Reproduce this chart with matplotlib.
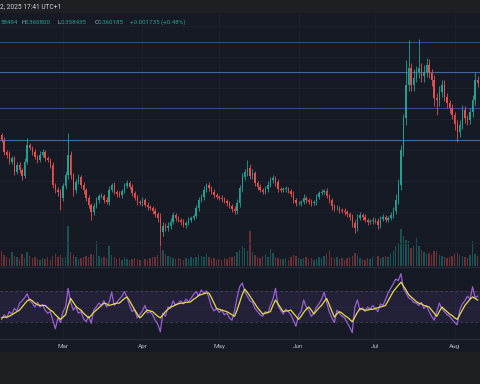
import matplotlib
matplotlib.use('Agg')
import matplotlib.pyplot as plt
import matplotlib.dates as mdates
import pandas as pd
import numpy as np
from matplotlib.patches import Rectangle
from matplotlib.lines import Line2D

# ---------------- data ----------------
start_date = '2025-02-05'
open_first = 0.381
closes = [
    0.374, 0.356, 0.352, 0.342, 0.347, 0.327, 0.337, 0.330, 0.321, 0.342,
    0.366, 0.362, 0.356, 0.349, 0.344, 0.352, 0.356, 0.347, 0.344, 0.337,
    0.308, 0.300, 0.298, 0.289, 0.306, 0.322, 0.352, 0.322, 0.300, 0.312,
    0.320, 0.308, 0.300, 0.289, 0.279, 0.268, 0.277, 0.286, 0.292, 0.292,
    0.286, 0.283, 0.300, 0.308, 0.298, 0.295, 0.293, 0.299, 0.306, 0.311,
    0.305, 0.296, 0.289, 0.283, 0.281, 0.286, 0.279, 0.276, 0.274, 0.270,
    0.265, 0.259, 0.239, 0.248, 0.245, 0.248, 0.254, 0.264, 0.259, 0.257,
    0.254, 0.249, 0.252, 0.257, 0.259, 0.262, 0.274, 0.286, 0.290, 0.300,
    0.308, 0.303, 0.298, 0.293, 0.290, 0.289, 0.287, 0.284, 0.281, 0.277,
    0.273, 0.270, 0.281, 0.303, 0.320, 0.327, 0.333, 0.321, 0.325, 0.311,
    0.305, 0.300, 0.298, 0.302, 0.308, 0.315, 0.318, 0.312, 0.302, 0.300,
    0.302, 0.302, 0.299, 0.295, 0.286, 0.281, 0.281, 0.283, 0.289, 0.286,
    0.283, 0.281, 0.283, 0.290, 0.296, 0.298, 0.299, 0.292, 0.286, 0.277,
    0.274, 0.274, 0.271, 0.270, 0.268, 0.265, 0.261, 0.252, 0.245, 0.259,
    0.264, 0.261, 0.257, 0.254, 0.255, 0.257, 0.255, 0.249, 0.258, 0.261,
    0.257, 0.259, 0.264, 0.270, 0.286, 0.308, 0.359, 0.406, 0.454, 0.479,
    0.454, 0.465, 0.473, 0.479, 0.467, 0.473, 0.484, 0.472, 0.462, 0.435,
    0.432, 0.444, 0.454, 0.437, 0.428, 0.421, 0.410, 0.397, 0.385, 0.396,
    0.418, 0.406, 0.403, 0.415, 0.432, 0.462, 0.457,
]
wick_hi = [  # upper wick, thousandths
    3, 4, 3, 5, 4, 3, 5, 4, 3, 6,
    11, 4, 3, 4, 3, 5, 4, 3, 4, 3,
    4, 3, 5, 4, 5, 6, 32, 6, 4, 5,
    4, 3, 4, 3, 4, 3, 5, 4, 3, 4,
    3, 4, 6, 3, 4, 3, 4, 3, 5, 4,
    3, 4, 3, 4, 3, 5, 3, 4, 3, 3,
    4, 3, 8, 5, 4, 6, 5, 4, 3, 4,
    3, 4, 3, 4, 3, 4, 5, 4, 5, 6,
    3, 4, 3, 4, 3, 3, 4, 3, 3, 4,
    3, 4, 6, 5, 6, 5, 11, 5, 6, 4,
    3, 4, 3, 4, 5, 4, 4, 3, 4, 3,
    3, 4, 3, 3, 4, 3, 4, 3, 5, 3,
    3, 4, 3, 4, 3, 4, 3, 4, 3, 3,
    3, 4, 3, 3, 4, 3, 3, 4, 5, 6,
    4, 3, 4, 3, 3, 4, 3, 4, 5, 4,
    3, 4, 5, 6, 8, 9, 8, 6, 37, 41,
    8, 12, 9, 42, 8, 10, 10, 8, 6, 7,
    8, 9, 8, 7, 6, 5, 6, 5, 6, 7,
    7, 6, 5, 6, 8, 11, 6,
]
wick_lo = [  # lower wick, thousandths
    3, 4, 5, 3, 4, 5, 3, 4, 6, 3,
    4, 3, 4, 3, 4, 3, 3, 4, 3, 4,
    5, 4, 6, 18, 5, 4, 5, 6, 8, 4,
    3, 4, 5, 4, 5, 11, 4, 3, 4, 3,
    4, 3, 4, 3, 3, 4, 3, 4, 3, 3,
    3, 4, 3, 4, 3, 4, 3, 4, 3, 4,
    4, 5, 19, 6, 5, 4, 5, 3, 4, 3,
    4, 3, 4, 3, 4, 3, 3, 4, 3, 4,
    3, 4, 3, 4, 3, 3, 4, 3, 4, 3,
    4, 5, 4, 5, 6, 5, 6, 5, 4, 5,
    4, 3, 4, 3, 4, 3, 4, 5, 4, 3,
    3, 4, 3, 4, 5, 4, 3, 4, 3, 4,
    3, 4, 3, 4, 3, 3, 4, 3, 4, 5,
    4, 3, 4, 3, 4, 4, 5, 6, 7, 4,
    3, 4, 3, 4, 3, 4, 3, 6, 4, 3,
    3, 4, 3, 4, 5, 6, 8, 9, 10, 8,
    9, 8, 7, 8, 9, 8, 7, 8, 9, 12,
    22, 8, 7, 6, 8, 7, 6, 8, 14, 7,
    6, 8, 7, 6, 8, 7, 6,
]
volumes = [  # millions
    150, 110, 90, 80, 140, 100, 90, 70, 120, 80,
    140, 100, 80, 90, 70, 60, 80, 70, 90, 60,
    100, 120, 90, 110, 80, 90, 400, 140, 110, 90,
    70, 80, 90, 100, 90, 120, 110, 250, 100, 80,
    90, 80, 200, 110, 90, 70, 80, 60, 90, 70,
    60, 70, 80, 70, 60, 80, 70, 60, 80, 90,
    90, 110, 220, 160, 120, 100, 90, 80, 70, 80,
    70, 60, 80, 70, 90, 80, 90, 110, 100, 90,
    120, 90, 70, 80, 60, 70, 60, 80, 70, 90,
    90, 100, 140, 160, 200, 180, 150, 350, 140, 110,
    90, 80, 100, 120, 90, 170, 130, 90, 80, 70,
    70, 80, 60, 90, 110, 100, 80, 70, 80, 90,
    70, 80, 60, 70, 90, 80, 100, 120, 160, 90,
    80, 90, 70, 80, 60, 80, 90, 100, 130, 110,
    80, 70, 60, 80, 70, 90, 80, 100, 80, 90,
    100, 90, 120, 150, 200, 220, 370, 300, 260, 250,
    180, 200, 280, 200, 160, 140, 120, 130, 110, 150,
    150, 110, 100, 90, 80, 90, 100, 120, 130, 110,
    100, 90, 80, 110, 250, 120, 100,
]
rsi = [
    34, 40, 36, 44, 41, 48, 45, 55, 58, 62,
    67, 58, 55, 50, 56, 50, 53, 46, 42, 44,
    33, 22, 36, 30, 44, 50, 74, 56, 46, 50,
    42, 44, 35, 31, 38, 29, 46, 50, 55, 52,
    58, 50, 56, 69, 52, 56, 60, 64, 70, 62,
    52, 44, 47, 36, 40, 45, 52, 42, 44, 40,
    33, 28, 18, 42, 38, 50, 48, 58, 52, 55,
    58, 54, 60, 57, 61, 66, 70, 64, 72, 68,
    71, 62, 50, 45, 48, 43, 46, 40, 42, 36,
    33, 45, 62, 76, 81, 70, 64, 58, 56, 48,
    44, 40, 38, 44, 42, 52, 60, 74, 52, 46,
    41, 47, 44, 40, 33, 25, 40, 44, 59, 50,
    46, 38, 42, 50, 54, 60, 69, 56, 44, 36,
    30, 46, 42, 38, 36, 30, 24, 17, 50, 59,
    46, 49, 44, 50, 47, 52, 48, 44, 54, 52,
    60, 68, 74, 80, 86, 84, 93, 74, 68, 62,
    60, 56, 55, 52, 56, 48, 52, 44, 38, 33,
    44, 55, 48, 44, 40, 38, 34, 30, 27, 46,
    54, 58, 64, 60, 76, 62, 64,
]
rsi_ma = [
    36, 37, 37, 38, 40, 42, 44, 46, 50, 54,
    58, 60, 58, 55, 53, 52, 52, 52, 49, 46,
    44, 40, 37, 34, 37, 40, 52, 61, 56, 51,
    48, 46, 42, 39, 36, 39, 43, 46, 49, 52,
    55, 54, 52, 53, 54, 55, 55, 58, 61, 63,
    58, 52, 46, 41, 36, 39, 43, 46, 45, 44,
    41, 38, 36, 40, 44, 47, 50, 51, 53, 54,
    55, 55, 56, 56, 57, 60, 62, 65, 66, 67,
    68, 68, 62, 55, 48, 47, 46, 45, 44, 42,
    40, 38, 46, 56, 66, 73, 69, 64, 59, 54,
    49, 45, 41, 42, 43, 44, 52, 59, 54, 49,
    44, 45, 45, 46, 42, 38, 34, 38, 43, 47,
    50, 46, 41, 45, 49, 52, 57, 61, 53, 45,
    37, 41, 44, 42, 39, 37, 34, 31, 37, 43,
    48, 47, 46, 46, 47, 47, 48, 49, 50, 51,
    52, 58, 64, 70, 74, 78, 82, 77, 72, 66,
    63, 60, 57, 55, 54, 52, 51, 50, 46, 42,
    38, 44, 50, 47, 44, 41, 39, 36, 34, 40,
    46, 52, 56, 60, 63, 61, 59,
]
levels = [0.517, 0.473, 0.421, 0.374]
month_labels = ['Mar', 'Apr', 'May', 'Jun', 'Jul', 'Aug']
month_starts = ['2025-03-01', '2025-04-01', '2025-05-01', '2025-06-01', '2025-07-01', '2025-08-01']
header_text = '2, 2025 17:41 UTC+1'
ohlc_labels = ['', 'H', 'L', 'C', '']
ohlc_values = ['58494', '0.360800', '0.358435', '0.360185', '+0.001735 (+0.48%)']

# ---------------- style ----------------
W, H = 480, 384
BG = '#161a25'
BAR = '#1e1f22'
UP = '#22a193'
DN = '#e5504e'
TXT = '#b2b5be'
FONT = ['Roboto', 'DejaVu Sans']
plt.rcParams['font.family'] = FONT

def fy(py):
    return 1 - py / H

def fx(px):
    return px / W

fig = plt.figure(figsize=(W / 100, H / 100), dpi=100, facecolor=BG)

dates = pd.date_range(start_date, periods=len(closes), freq='D')
xn = mdates.date2num(dates)
xlim = (xn[0] - 0.625, xn[0] + 186.9)
mx = mdates.date2num(pd.to_datetime(month_starts))

o = np.array([open_first] + closes[:-1])
c = np.array(closes)
hi = np.maximum(o, c) + np.array(wick_hi) / 1000.0
lo = np.minimum(o, c) - np.array(wick_lo) / 1000.0
up = c >= o
cols = np.where(up, UP, DN)

main_rect = [0, fy(266), 1, (266 - 14) / H]

# volume (behind)
vax = fig.add_axes(main_rect, facecolor=BG)
vax.bar(xn, volumes, width=0.55, color=cols, alpha=0.42, linewidth=0)
vax.set_ylim(0, 2520)
vax.set_xlim(*xlim)
vax.axis('off')

# price
ax = fig.add_axes(main_rect, facecolor='none')
ax.set_xlim(*xlim)
ax.set_ylim(0.1893, 0.5582)
grid_prices = [0.223, 0.2683, 0.3137, 0.3591, 0.4045, 0.4499, 0.4953, 0.5406]
for gp in grid_prices:
    ax.axhline(gp, color='#1c2030', lw=0.6, zorder=0)
for m in mx:
    ax.axvline(m, color='#1c2030', lw=0.6, zorder=0)
for i, lv in enumerate(levels):
    ax.axhline(lv, color='#46679c' if i % 2 else '#334e78', lw=0.8, zorder=1)
ax.vlines(xn, lo, hi, colors=cols, linewidth=0.6, zorder=2)
ax.bar(xn, np.maximum(np.abs(c - o), 0.0009), bottom=np.minimum(o, c), width=0.55,
       color=cols, linewidth=0, zorder=3)
for s in ax.spines.values():
    s.set_visible(False)
ax.set_xticks([])
ax.set_yticks([])

# RSI pane
rax = fig.add_axes([0, fy(338), 1, (338 - 267) / H], facecolor=BG)
rax.set_xlim(*xlim)
rax.set_ylim(10, 101.6)
for m in mx:
    rax.axvline(m, color='#1c2030', lw=0.6, zorder=0)
rax.axhspan(30, 70, color='#7e57c2', alpha=0.12, lw=0, zorder=0)
rax.axhline(70, color='#787b86', lw=0.6, ls=(0, (3, 3)), alpha=0.45)
rax.axhline(30, color='#787b86', lw=0.6, ls=(0, (3, 3)), alpha=0.45)
rax.axhline(50, color='#787b86', lw=0.5, ls=(0, (1, 2)), alpha=0.3)
rax.plot(xn, rsi, color='#9a5fd6', lw=0.9, zorder=3)
rax.plot(xn, rsi_ma, color='#e3de4a', lw=0.9, zorder=4)
for s in rax.spines.values():
    s.set_visible(False)
rax.set_yticks([])
rax.set_xticks(mx)
rax.set_xticklabels(month_labels)
rax.tick_params(axis='x', length=0, pad=4.3, labelsize=4.6, labelcolor=TXT)

# pane separators
fig.add_artist(Line2D([0, 1], [fy(266.5), fy(266.5)], color='#262a35', lw=1.0))
fig.add_artist(Line2D([0, 1], [fy(338.5), fy(338.5)], color='#262a35', lw=1.0))

# header & footer
fig.add_artist(Rectangle((0, fy(13)), 1, 13 / H, color=BAR, lw=0, zorder=5))
fig.add_artist(Rectangle((0, 0), 1, (H - 352) / H, color=BAR, lw=0, zorder=5))
fig.text(fx(0), fy(7), header_text, color='#d1d4dc', fontsize=4.8, va='center',
         ha='left', zorder=6)

# OHLC legend line
label_x = [0, 21, 57.5, 94.5, 0]
value_x = [0, 25, 61, 98, 130]
for lab, lx, val, vx in zip(ohlc_labels, label_x, ohlc_values, value_x):
    if lab:
        fig.text(fx(lx), fy(22), lab, color=TXT, fontsize=4.4, va='center', ha='left')
    fig.text(fx(vx), fy(22), val, color=UP, fontsize=4.4, va='center', ha='left')

fig.savefig('out.png', dpi=100, facecolor=BG)
